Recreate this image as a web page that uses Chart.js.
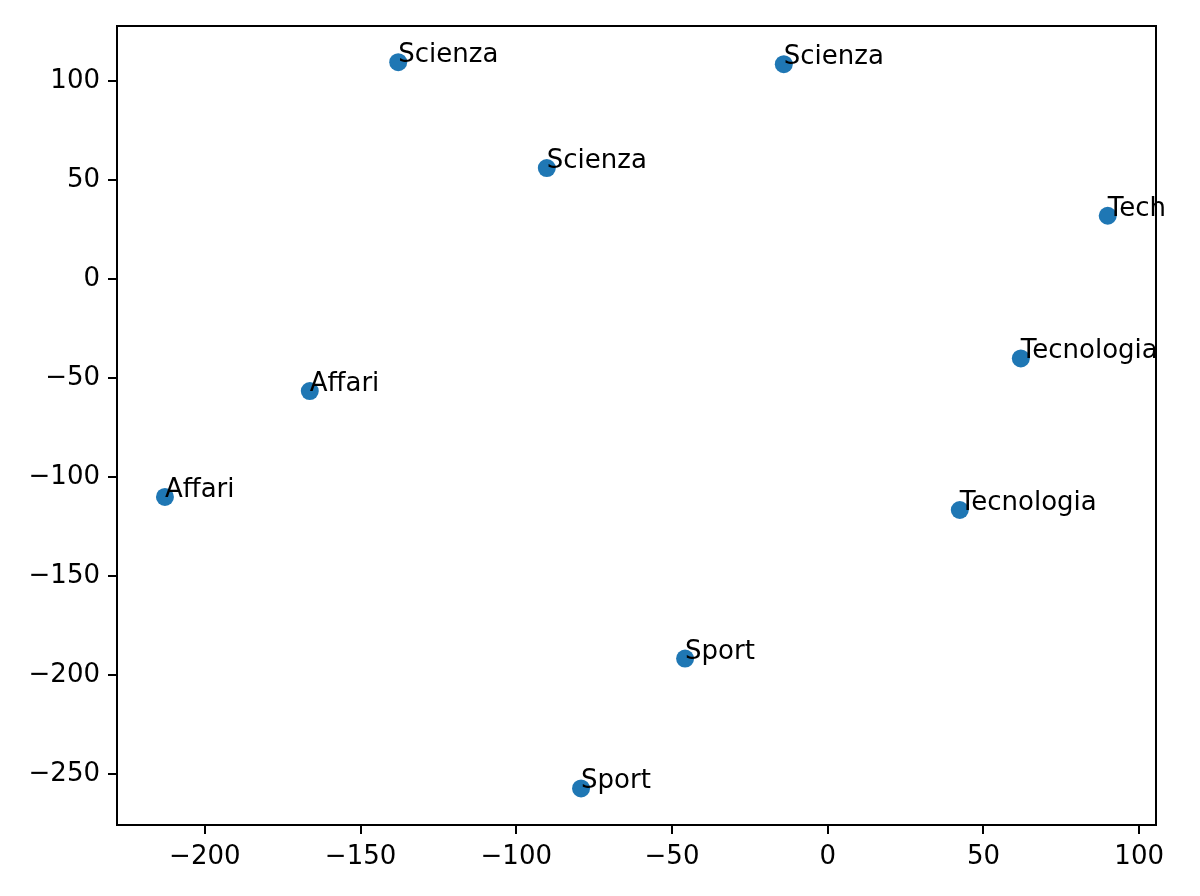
<!DOCTYPE html>
<html>
<head>
<meta charset="utf-8">
<script src="https://cdn.jsdelivr.net/npm/chart.js@4"></script>
<style>
  html, body { margin: 0; padding: 0; background: #fff; }
  #wrap { width: 1200px; height: 896px; }
</style>
</head>
<body>
<div id="wrap"><canvas id="chart" width="1200" height="896"></canvas></div>
<script>
'use strict';

/* ── Data ────────────────────────────────────────────────────────────────── */
const labels = ['Scienza', 'Scienza', 'Scienza', 'Tech', 'Tecnologia',
                'Affari', 'Affari', 'Tecnologia', 'Sport', 'Sport'];
const xVals  = [-137.9, -14.1, -90.2, 89.9, 62.0, -166.3, -212.8, 42.4, -45.8, -79.2];
const yVals  = [109.6, 108.6, 56.1, 32.0, -40.1, -56.6, -110.1, -116.7, -191.8, -257.4];
const xTicks = [-200, -150, -100, -50, 0, 50, 100];
const yTicks = [-250, -200, -150, -100, -50, 0, 50, 100];

const FONT = '"DejaVu Sans", sans-serif';
const fmt  = v => String(v).replace('-', '\u2212');

/* ── Plugins: axes frame + point annotations ─────────────────────────────── */
const frame = {
  id: 'frame',
  afterDraw(chart) {
    const { ctx, chartArea: a } = chart;
    ctx.save();
    ctx.strokeStyle = '#000';
    ctx.lineWidth = 2;
    ctx.strokeRect(a.left, a.top, a.right - a.left, a.bottom - a.top);
    ctx.restore();
  },
};

const annotate = {
  id: 'annotate',
  afterDatasetsDraw(chart) {
    const { ctx } = chart;
    const meta = chart.getDatasetMeta(0);
    ctx.save();
    ctx.fillStyle = '#000';
    ctx.font = '26px ' + FONT;
    ctx.textAlign = 'left';
    ctx.textBaseline = 'alphabetic';
    meta.data.forEach((pt, i) => ctx.fillText(labels[i], pt.x, pt.y));
    ctx.restore();
  },
};

const axisCommon = {
  type: 'linear',
  grid:   { drawOnChartArea: false, drawTicks: true, tickLength: 9, color: '#000', lineWidth: 2 },
  border: { display: false },
  ticks:  { color: '#000', font: { family: FONT, size: 26 }, padding: 8, callback: fmt },
};

new Chart(document.getElementById('chart').getContext('2d'), {
  type: 'scatter',
  data: {
    datasets: [{
      data: xVals.map((x, i) => ({ x, y: yVals[i] })),
      backgroundColor: '#1f77b4',
      borderWidth: 0,
      pointRadius: 9,
      pointHoverRadius: 9,
    }],
  },
  options: {
    responsive: false,
    animation: false,
    layout: { padding: { top: 26, right: 44, left: 0, bottom: 0 } },
    plugins: { legend: { display: false }, tooltip: { enabled: false } },
    scales: {
      x: {
        ...axisCommon,
        position: 'bottom',
        min: -228.2, max: 105.4,
        afterBuildTicks: s => { s.ticks = xTicks.map(v => ({ value: v })); },
        afterFit: s => { s.height = 71; },
      },
      y: {
        ...axisCommon,
        position: 'left',
        min: -275.9, max: 127.9,
        afterBuildTicks: s => { s.ticks = yTicks.map(v => ({ value: v })); },
        afterFit: s => { s.width = 117; },
      },
    },
  },
  plugins: [frame, annotate],
});
</script>
</body>
</html>
